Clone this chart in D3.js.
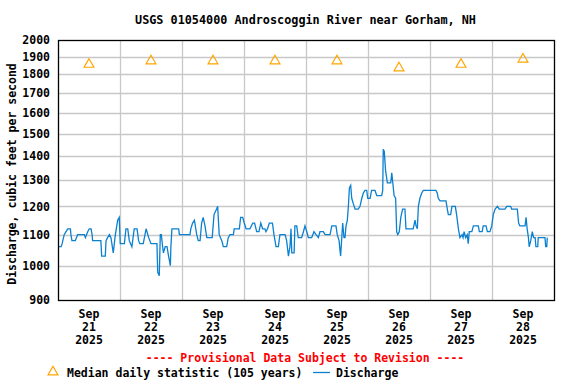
<!DOCTYPE html>
<html>
<head>
<meta charset="utf-8">
<script src="https://cdn.jsdelivr.net/npm/d3@7"></script>
<style>
  body{margin:0;background:#fff;}
  text{font-family:"DejaVu Sans Mono",monospace;}
</style>
</head>
<body>
<div id="chart"></div>
<script>
// hours after Sep 21 2025 00:00 and discharge in cfs
var hours=[0,1.2,1.6,2.4,3.1,3.8,4.8,5.0,5.4,6.7,7.6,10.2,10.6,11.5,12.1,12.8,13.2,13.4,16.6,16.9,18.3,18.6,19.2,19.9,20.5,21.4,22.2,23.1,23.7,24.1,
  25.7,26.3,27.0,27.6,28.6,29.5,30.6,31.2,31.7,33.0,34.1,35.1,36.0,38.3,38.6,39.2,39.6,40.0,40.5,40.8,41.5,42.2,42.8,43.5,43.7,44.1,46.7,47.0,
  51.1,51.4,52.1,52.8,53.7,54.3,55.0,55.6,56.2,56.9,57.6,59.7,60.4,61.4,61.8,62.4,63.4,64.0,65.3,65.9,66.6,67.9,68.2,70.2,70.7,71.5,72.1,72.8,
  74.3,75.4,76.1,76.9,77.8,78.5,79.2,80.1,80.5,81.1,81.8,83.0,83.6,84.4,85.3,85.9,87.9,88.5,89.2,89.8,90.2,90.5,91.4,91.7,92.4,93.0,94.3,95.0,
  95.6,96.3,96.9,98.2,99.1,99.9,100.8,101.4,102.7,103.4,105.3,106.0,107.6,108.1,108.8,109.2,109.4,109.7,110.2,110.7,111.1,111.5,112.0,112.4,
  112.8,113.3,113.7,114.3,115.0,116.2,116.9,117.6,118.2,118.8,119.5,119.9,120.8,121.4,122.7,123.4,125.3,125.7,125.9,126.3,126.8,127.5,128.8,
  129.2,129.6,130.1,130.7,131.1,131.5,132.1,132.7,133.4,134.3,134.7,137.5,138.2,138.6,139.1,139.5,140.1,140.8,141.4,146.3,146.8,147.2,147.9,
  150.2,150.7,151.1,152.0,152.5,153.8,154.3,155.0,155.6,156.4,156.8,157.2,157.8,158.4,158.8,159.2,160.2,160.8,162.7,163.1,164.2,164.6,165.7,
  166.2,167.2,167.9,168.5,169.2,170.1,170.8,173.0,173.7,175.2,175.6,177.8,178.3,178.8,180.8,181.2,181.6,182.1,182.4,183.0,183.6,184.1,184.7,
  185.0,185.7,185.9,188.5,188.8,189.2,189.4];
var cfs=[1060,1060,1070,1100,1110,1120,1120,1100,1080,1080,1100,1100,1090,1110,1120,1120,1100,1080,1080,1030,1030,1080,1090,1100,1090,1040,1100,1150,1160,1070,
  1070,1120,1120,1080,1060,1120,1120,1080,1070,1070,1120,1090,1070,1070,980,970,1100,1100,1060,1040,1060,1060,1030,1000,1060,1120,1120,1100,
  1100,1120,1140,1150,1100,1080,1080,1140,1160,1130,1090,1090,1170,1190,1200,1100,1080,1060,1060,1090,1100,1100,1120,1120,1160,1160,1140,1120,
  1120,1140,1140,1110,1110,1140,1120,1120,1110,1120,1140,1140,1100,1060,1060,1100,1100,1080,1030,1060,1120,1040,1040,1130,1130,1090,1090,1110,
  1130,1110,1090,1090,1110,1100,1090,1110,1110,1100,1100,1130,1130,1100,1080,1045,1030,1070,1140,1090,1090,1130,1150,1200,
  1270,1280,1230,1210,1190,1190,1200,1230,1250,1260,1260,1230,1230,1260,1260,1240,1240,1260,1430,1420,1340,1290,1290,
  1330,1290,1240,1230,1110,1100,1110,1160,1190,1190,1120,1120,1150,1130,1120,1200,1230,1250,1260,1260,1250,1230,1220,
  1220,1190,1170,1170,1200,1200,1170,1120,1090,1100,1090,1110,1090,1100,1070,1110,1110,1130,1130,1110,1110,1130,1130,
  1110,1110,1130,1170,1190,1200,1190,1190,1200,1200,1190,1190,1140,1130,1130,1160,1120,1090,1060,1080,1110,1090,1090,
  1060,1060,1090,1090,1060,1060,1090];
// median daily statistic at noon of each day
var medianDays=[0,1,2,3,4,5,6,7];
var medianCfs=[1860,1880,1880,1880,1880,1840,1860,1890];
var dayLabels=["21","22","23","24","25","26","27","28"];
var yTicks=[900,1000,1100,1200,1300,1400,1500,1600,1700,1800,1900,2000];

var W=576,H=384;
var pLeft=58,pRight=554,pTop=40,pBottom=300;
var start=new Date(2025,8,21,0,0);
var end=new Date(2025,8,29,0,0);

var svg=d3.select('#chart').append('svg').attr('width',W).attr('height',H);

var x=d3.scaleTime().domain([start,end]).range([pLeft,pRight]);
var y=d3.scaleLog().domain([900,2000]).range([pBottom,pTop]);

// grid
var days=d3.timeDay.range(start,end).slice(1);
svg.append('g').selectAll('line').data(days).enter().append('line')
  .attr('x1',function(d){return x(d)+0.5;}).attr('x2',function(d){return x(d)+0.5;})
  .attr('y1',pTop).attr('y2',pBottom)
  .attr('stroke','#c8c8c8').attr('stroke-width',1.3);

var yAxis=svg.append('g').attr('transform','translate('+pLeft+',0)')
  .call(d3.axisLeft(y).tickValues(yTicks).tickFormat(d3.format('d')).tickSize(0).tickPadding(8));
yAxis.select('.domain').remove();
yAxis.selectAll('text').attr('font-size','11.5px').attr('font-weight','bold')
  .attr('font-family','DejaVu Sans Mono').attr('fill','#000');
svg.append('g').selectAll('line').data(yTicks.slice(1,-1)).enter().append('line')
  .attr('x1',pLeft).attr('x2',pRight)
  .attr('y1',function(d){return Math.round(y(d))+0.5;}).attr('y2',function(d){return Math.round(y(d))+0.5;})
  .attr('stroke','#c8c8c8').attr('stroke-width',1.3);

// discharge
var pts=hours.map(function(h,i){return {t:d3.timeMinute.offset(start,Math.round(h*60)),v:cfs[i]};});
svg.append('path').datum(pts)
  .attr('d',d3.line().x(function(d){return x(d.t);}).y(function(d){return y(d.v);}))
  .attr('fill','none').attr('stroke','#0a80d0').attr('stroke-width',1.3);

// median triangles
var tri=d3.symbol().type(d3.symbolTriangle).size(42);
svg.append('g').selectAll('path').data(medianDays).enter().append('path')
  .attr('d',tri)
  .attr('transform',function(d,i){return 'translate('+x(d3.timeHour.offset(start,d*24+12))+','+(y(medianCfs[i])+0.8)+')';})
  .attr('fill','none').attr('stroke','#FFA500').attr('stroke-width',1.2);

// frame
svg.append('rect').attr('x',pLeft+0.5).attr('y',pTop+0.5).attr('width',pRight-pLeft).attr('height',pBottom-pTop)
  .attr('fill','none').attr('stroke','#000').attr('stroke-width',1.3);

// x labels
function noonX(i){return x(d3.timeHour.offset(start,i*24+12));}
var xl=svg.append('g').selectAll('text').data(dayLabels).enter().append('text')
  .attr('x',function(d,i){return noonX(i);})
  .attr('y',318).attr('text-anchor','middle')
  .attr('font-size','11.5px').attr('font-weight','bold');
xl.append('tspan').text('Sep').attr('x',function(d,i){return noonX(i);}).attr('dy',0);
xl.append('tspan').text(function(d){return d;}).attr('x',function(d,i){return noonX(i);}).attr('dy',13);
xl.append('tspan').text('2025').attr('x',function(d,i){return noonX(i);}).attr('dy',13);

// title
svg.append('text').attr('x',305.5).attr('y',24).attr('text-anchor','middle')
  .attr('font-size','11.8px').attr('font-weight','bold').text('USGS 01054000 Androscoggin River near Gorham, NH');

// y label
svg.append('text').attr('transform','translate(16,174) rotate(-90)').attr('text-anchor','middle')
  .attr('font-size','11.5px').attr('font-weight','bold').text('Discharge, cubic feet per second');

// provisional note
svg.append('text').attr('x',305).attr('y',362).attr('text-anchor','middle')
  .attr('font-size','11.5px').attr('font-weight','bold').attr('fill','#ff0000')
  .text('---- Provisional Data Subject to Revision ----');

// legend
svg.append('path').attr('d',tri).attr('transform','translate(53,372)')
  .attr('fill','none').attr('stroke','#FFA500').attr('stroke-width',1.2);
svg.append('text').attr('x',67).attr('y',377).attr('font-size','11.5px').attr('font-weight','bold')
  .text('Median daily statistic (105 years)');
svg.append('line').attr('x1',313).attr('x2',330).attr('y1',372.5).attr('y2',372.5)
  .attr('stroke','#0a80d0').attr('stroke-width',1.3);
svg.append('text').attr('x',336).attr('y',377).attr('font-size','11.5px').attr('font-weight','bold')
  .text('Discharge');
</script>
</body>
</html>
